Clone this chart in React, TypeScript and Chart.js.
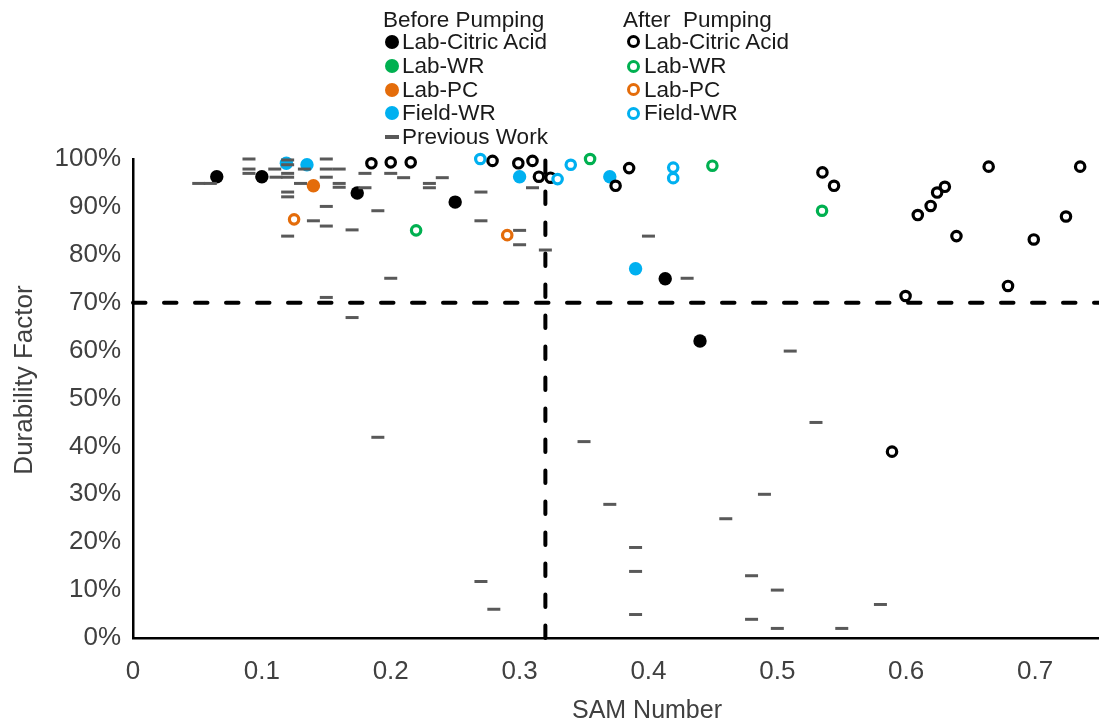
import React, { useEffect, useRef } from "react";
import { Chart, registerables } from "chart.js";

Chart.register(...registerables);

// ---------- axis ticks ----------
const xTickValues = [0, 0.1, 0.2, 0.3, 0.4, 0.5, 0.6, 0.7, 0.8];
const xTickLabels = ["0", "0.1", "0.2", "0.3", "0.4", "0.5", "0.6", "0.7", "0.8"];
const yTickValues = [0, 10, 20, 30, 40, 50, 60, 70, 80, 90, 100];
const yTickLabels = ["0%", "10%", "20%", "30%", "40%", "50%", "60%", "70%", "80%", "90%", "100%"];

const xAxisTitle = "SAM Number";
const yAxisTitle = "Durability Factor";

// ---------- legend text ----------
const beforeHeader = "Before Pumping";
const afterHeader = "After  Pumping";
const beforeLabels = ["Lab-Citric Acid", "Lab-WR", "Lab-PC", "Field-WR", "Previous Work"];
const afterLabels = ["Lab-Citric Acid", "Lab-WR", "Lab-PC", "Field-WR"];

// ---------- Before pumping (filled) ----------
const beforeCitricX = [0.065, 0.1, 0.174, 0.25, 0.413, 0.44];
const beforeCitricY = [96.3, 96.3, 92.9, 91.0, 75.0, 62.0];
const beforeWRX: number[] = [];
const beforeWRY: number[] = [];
const beforePCX = [0.14];
const beforePCY = [94.4];
const beforeFieldX = [0.119, 0.135, 0.3, 0.37, 0.39];
const beforeFieldY = [99.1, 98.8, 96.3, 96.3, 77.1];

// ---------- After pumping (open) ----------
const afterCitricX = [0.185, 0.2, 0.2155, 0.279, 0.299, 0.31, 0.315, 0.324, 0.3745, 0.385, 0.535, 0.544, 0.589, 0.5995, 0.609, 0.619, 0.624, 0.63, 0.639, 0.664, 0.679, 0.699, 0.724, 0.735];
const afterCitricY = [99.1, 99.3, 99.3, 99.6, 99.1, 99.6, 96.3, 96.1, 94.4, 98.1, 97.2, 94.4, 38.9, 71.4, 88.3, 90.2, 93.0, 94.2, 83.9, 98.4, 73.5, 83.2, 88.0, 98.4];
const afterWRX = [0.2197, 0.3547, 0.4496, 0.5347];
const afterWRY = [85.1, 100.0, 98.6, 89.2];
const afterPCX = [0.125, 0.2904];
const afterPCY = [87.4, 84.1];
const afterFieldX = [0.2695, 0.3295, 0.3397, 0.4192, 0.4192];
const afterFieldY = [100.0, 95.8, 98.8, 98.2, 96.0];

// ---------- Previous work ----------
const prevWorkX = [
  0.051, 0.06, 0.09, 0.09, 0.09, 0.11, 0.111, 0.12, 0.12, 0.12, 0.12, 0.12, 0.12, 0.12,
  0.133, 0.13, 0.14, 0.15, 0.15, 0.15, 0.15, 0.15, 0.15, 0.16, 0.16, 0.16, 0.17, 0.17,
  0.18, 0.18, 0.19, 0.19, 0.2, 0.2, 0.21, 0.23, 0.23, 0.24, 0.27, 0.27, 0.27, 0.28,
  0.3, 0.3, 0.31, 0.32, 0.35, 0.37, 0.39, 0.39, 0.39, 0.4, 0.43, 0.46, 0.48, 0.48,
  0.49, 0.5, 0.5, 0.51, 0.53, 0.55, 0.58,
];
const prevWorkY = [
  94.9, 94.9, 100, 97.9, 97.0, 97.9, 96.2, 99.8, 98.8, 97.0, 96.2, 93.1, 92.1, 83.9,
  97.9, 94.9, 87.1, 100, 97.9, 96.2, 90.1, 86.0, 71.1, 97.9, 94.9, 94.1, 85.2, 66.9,
  97.0, 94.0, 89.2, 41.9, 97.0, 75.1, 96.1, 94.9, 94.0, 96.1, 93.1, 87.1, 11.8, 6.0,
  85.1, 82.1, 94.0, 81.0, 41.0, 27.9, 18.9, 13.9, 4.9, 83.9, 75.1, 24.9, 13.0, 3.9,
  30.0, 10.0, 2.0, 59.9, 45.0, 2.0, 7.0,
];

// ---------- limit lines ----------
const samLimitX = [0.32, 0.32];
const samLimitY = [0, 100];
const dfLimitX = [0, 0.8];
const dfLimitY = [70, 70];

const COLORS = {
  citric: "#000000",
  wr: "#00B050",
  pc: "#E46C0A",
  field: "#00B0F0",
  prev: "#595959",
};
const seriesColors = [COLORS.citric, COLORS.wr, COLORS.pc, COLORS.field];

const FONT = '"Liberation Sans", Arial, Helvetica, sans-serif';
const TEXT = "#404040";

const pts = (xs: number[], ys: number[]) => xs.map((x, i) => ({ x, y: ys[i] }));

function filled(label: string, xs: number[], ys: number[], color: string, order: number) {
  return {
    type: "scatter" as const,
    label,
    data: pts(xs, ys),
    pointStyle: "circle",
    pointRadius: 6.7,
    pointBorderWidth: 0,
    pointBackgroundColor: color,
    pointBorderColor: color,
    showLine: false,
    clip: false as any,
    order,
  };
}

function open(label: string, xs: number[], ys: number[], color: string, order: number) {
  return {
    type: "scatter" as const,
    label,
    data: pts(xs, ys),
    pointStyle: "circle",
    pointRadius: 4.7,
    pointBorderWidth: 3.2,
    pointBackgroundColor: "#ffffff",
    pointBorderColor: color,
    showLine: false,
    clip: false as any,
    order,
  };
}

function limitLine(label: string, xs: number[], ys: number[], order: number) {
  return {
    type: "scatter" as const,
    label,
    data: pts(xs, ys),
    showLine: true,
    borderColor: "#000000",
    borderWidth: 4,
    borderDash: [12.5, 18.5],
    borderCapStyle: "round" as const,
    pointRadius: 0,
    pointHoverRadius: 0,
    clip: false as any,
    order,
  };
}

function LegendMarker({ kind, color, cx, cy }: { kind: string; color: string; cx: number; cy: number }) {
  if (kind === "filled") {
    const d = 14;
    return (
      <span
        style={{
          position: "absolute",
          left: cx - d / 2,
          top: cy - d / 2,
          width: d,
          height: d,
          borderRadius: "50%",
          background: color,
        }}
      />
    );
  }
  if (kind === "open") {
    const d = 13;
    return (
      <span
        style={{
          position: "absolute",
          left: cx - d / 2,
          top: cy - d / 2,
          width: d,
          height: d,
          boxSizing: "border-box",
          borderRadius: "50%",
          border: `3px solid ${color}`,
          background: "#fff",
        }}
      />
    );
  }
  return (
    <span
      style={{
        position: "absolute",
        left: cx - 7,
        top: cy - 2,
        width: 14,
        height: 4,
        background: color,
      }}
    />
  );
}

function Legend() {
  const rowY = [41.7, 66, 89.5, 113.3, 136.8];
  const headerY = 19.5;
  const colA = { marker: 392, text: 402, header: 383 };
  const colB = { marker: 633.5, text: 644, header: 623 };
  const textStyle = (left: number, cy: number): React.CSSProperties => ({
    position: "absolute",
    left,
    top: cy - 12,
    height: 24,
    lineHeight: "24px",
    fontSize: 22.5,
    fontFamily: FONT,
    color: "#1a1a1a",
    whiteSpace: "pre",
  });
  return (
    <div style={{ position: "absolute", left: 0, top: 0, width: 1099, height: 160, pointerEvents: "none" }}>
      <div style={textStyle(colA.header, headerY)}>{beforeHeader}</div>
      <div style={textStyle(colB.header, headerY)}>{afterHeader}</div>
      {beforeLabels.map((lab, i) => (
        <React.Fragment key={"b" + i}>
          <LegendMarker
            kind={i < 4 ? "filled" : "dash"}
            color={i < 4 ? seriesColors[i] : COLORS.prev}
            cx={colA.marker}
            cy={rowY[i]}
          />
          <div style={textStyle(colA.text, rowY[i])}>{lab}</div>
        </React.Fragment>
      ))}
      {afterLabels.map((lab, i) => (
        <React.Fragment key={"a" + i}>
          <LegendMarker kind="open" color={seriesColors[i]} cx={colB.marker} cy={rowY[i]} />
          <div style={textStyle(colB.text, rowY[i])}>{lab}</div>
        </React.Fragment>
      ))}
    </div>
  );
}

function AxisTitles() {
  const base: React.CSSProperties = {
    position: "absolute",
    fontFamily: FONT,
    color: TEXT,
    whiteSpace: "pre",
    lineHeight: "30px",
    height: 30,
    textAlign: "center",
  };
  return (
    <>
      <div style={{ ...base, left: 647 - 150, top: 709 - 15, width: 300, fontSize: 25 }}>{xAxisTitle}</div>
      <div
        style={{
          ...base,
          left: 23 - 150,
          top: 380 - 15,
          width: 300,
          fontSize: 26,
          transform: "rotate(-90deg)",
          transformOrigin: "50% 50%",
        }}
      >
        {yAxisTitle}
      </div>
    </>
  );
}

export default function App() {
  const canvasRef = useRef<HTMLCanvasElement | null>(null);

  useEffect(() => {
    document.body.style.margin = "0";
    document.body.style.overflow = "hidden";
    const canvas = canvasRef.current;
    if (!canvas) return;

    const datasets: any[] = [
      filled("Before Lab-Citric Acid", beforeCitricX, beforeCitricY, COLORS.citric, 9),
      filled("Before Lab-WR", beforeWRX, beforeWRY, COLORS.wr, 8),
      filled("Before Lab-PC", beforePCX, beforePCY, COLORS.pc, 7),
      filled("Before Field-WR", beforeFieldX, beforeFieldY, COLORS.field, 6),
      open("After Lab-Citric Acid", afterCitricX, afterCitricY, COLORS.citric, 5),
      open("After Lab-WR", afterWRX, afterWRY, COLORS.wr, 4),
      open("After Lab-PC", afterPCX, afterPCY, COLORS.pc, 3),
      open("After Field-WR", afterFieldX, afterFieldY, COLORS.field, 2),
      {
        type: "scatter",
        label: "Previous Work",
        data: pts(prevWorkX, prevWorkY),
        pointStyle: "line",
        pointRadius: 6.5,
        pointBorderWidth: 3,
        pointBorderColor: COLORS.prev,
        pointBackgroundColor: COLORS.prev,
        showLine: false,
        clip: false,
        order: 1,
      },
      limitLine("SAM limit", samLimitX, samLimitY, 20),
      limitLine("DF limit", dfLimitX, dfLimitY, 21),
    ];

    const chart = new Chart(canvas, {
      type: "scatter",
      data: { datasets },
      options: {
        animation: false,
        responsive: false,
        maintainAspectRatio: false,
        events: [],
        layout: { padding: { top: 159, right: 30, bottom: 0, left: 0 } },
        plugins: {
          legend: { display: false },
          tooltip: { enabled: false },
        },
        scales: {
          x: {
            type: "linear",
            min: 0,
            max: 0.8,
            grid: { display: false, drawTicks: false },
            border: { display: true, color: "#000000", width: 2.5 },
            afterBuildTicks: (s: any) => {
              s.ticks = xTickValues.map((v) => ({ value: v }));
            },
            afterFit: (s: any) => {
              s.height = 85;
            },
            ticks: {
              autoSkip: false,
              maxRotation: 0,
              padding: 18,
              color: TEXT,
              font: { family: FONT, size: 26 },
              callback: (_v: any, i: number) => xTickLabels[i],
            },
            title: { display: false },
          },
          y: {
            type: "linear",
            min: 0,
            max: 100,
            grid: { display: false, drawTicks: false },
            border: { display: true, color: "#000000", width: 2.5 },
            afterBuildTicks: (s: any) => {
              s.ticks = yTickValues.map((v) => ({ value: v }));
            },
            afterFit: (s: any) => {
              s.width = 133;
            },
            ticks: {
              autoSkip: false,
              padding: 12,
              color: TEXT,
              font: { family: FONT, size: 26 },
              callback: (_v: any, i: number) => yTickLabels[i],
            },
            title: { display: false },
          },
        },
      } as any,
    });

    return () => {
      chart.destroy();
    };
  }, []);

  return (
    <div style={{ position: "relative", width: 1099, height: 723, overflow: "hidden", background: "#ffffff" }}>
      <canvas ref={canvasRef} width={1200} height={723} style={{ display: "block", width: 1200, height: 723 }} />
      <AxisTitles />
      <Legend />
    </div>
  );
}
